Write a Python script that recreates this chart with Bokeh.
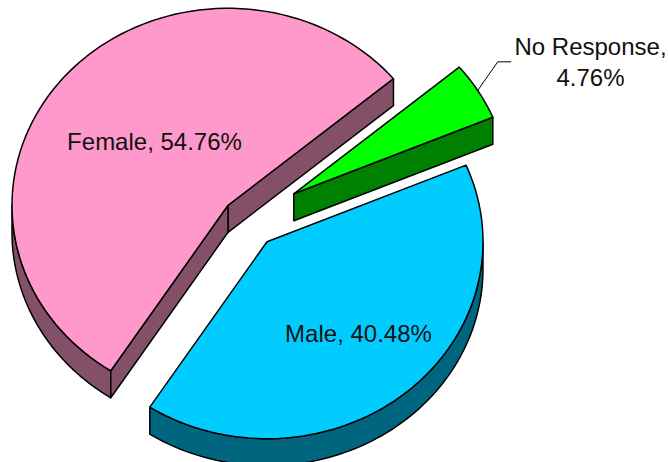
import numpy as np
from bokeh.embed import file_html
from bokeh.models import Range1d
from bokeh.plotting import figure
from bokeh.resources import INLINE
from bokeh.core.properties import value

categories = ["Female", "Male", "No Response"]
percents = [54.76, 40.48, 4.76]
top_colors = ["#FF99CC", "#00CCFF", "#00FF00"]
side_colors = ["#845068", "#006680", "#008000"]

# layout of the drawing (page pixels)
CX, CY = 248.5, 221.6
RX, RY = 216.0, 197.0
DEPTH = 27.0
START = 40.0
OFFSET_X = [-21.0, 18.0, 44.8]
OFFSET_Y = [-16.8, 19.6, -28.3]
LW = 1.5

p = figure(width=668, height=462, output_backend="svg", toolbar_location=None,
           x_range=Range1d(0, 668), y_range=Range1d(462, 0),
           min_border=0, outline_line_color=None, x_axis_location=None, y_axis_location=None)
p.xgrid.visible = False
p.ygrid.visible = False
p.background_fill_color = "white"
p.border_fill_color = "white"


def pt(c, deg):
    t = np.radians(deg)
    return c[0] + RX * np.cos(t), c[1] - RY * np.sin(t)


def arc(c, a0, a1, n=90):
    t = np.radians(np.linspace(a0, a1, n))
    return c[0] + RX * np.cos(t), c[1] - RY * np.sin(t)


def face(xs, ys, color):
    p.patch(list(xs), list(ys), fill_color=color, line_color="black", line_width=LW, line_join="round")


def radial_face(c, deg, color):
    x, y = pt(c, deg)
    face([c[0], x, x, c[0]], [c[1], y, y + DEPTH, c[1] + DEPTH], color)


def outer_face(c, a0, a1, color):
    x, y = arc(c, a0, a1)
    face(np.r_[x, x[::-1]], np.r_[y, y[::-1] + DEPTH], color)


angle = START
for i, v in enumerate(percents):
    a0, a1 = angle, angle + v * 3.6
    angle = a1
    c = (CX + OFFSET_X[i], CY + OFFSET_Y[i])
    side = side_colors[i]
    if categories[i] == "Female":
        radial_face(c, a0, side)
        outer_face(c, 180, a1, side)
        radial_face(c, a1, side)
    elif categories[i] == "Male":
        outer_face(c, a0, 360, side)
    else:
        radial_face(c, a0, side)
    x, y = arc(c, a0, a1)
    face(np.r_[c[0], x], np.r_[c[1], y], top_colors[i])

labels = [f"{c}, {v:.2f}%" for c, v in zip(categories, percents)]
font = dict(text_font=value("Liberation Sans"), text_font_size="24px", text_color="#111111",
            text_align="center", text_baseline="alphabetic")
p.text([154], [140.5], text=[labels[0]], **font)
p.text([358], [333], text=[labels[1]], **font)
nr_head, nr_tail = labels[2].rsplit(" ", 1)
p.text([590], [45.5], text=[nr_head], **font)
p.text([590], [76.5], text=[nr_tail], **font)

p.line([476.7, 497.3, 510.7], [90.7, 61.3, 61.3], line_color="black", line_width=1)

open("out.html", "w").write(file_html(p, INLINE))
